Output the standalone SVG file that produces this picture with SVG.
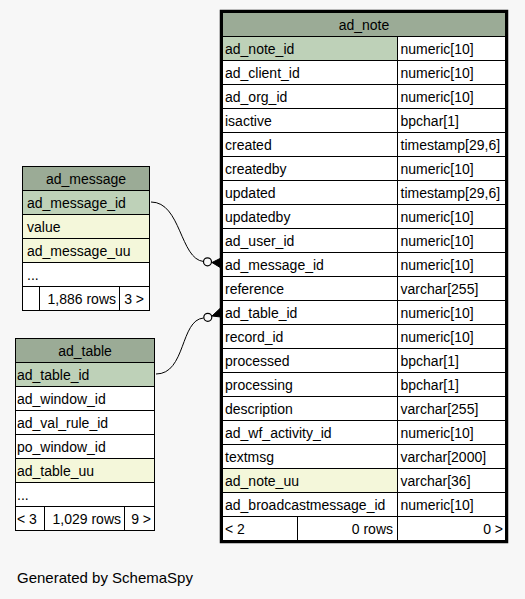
<svg xmlns="http://www.w3.org/2000/svg" width="525" height="599" viewBox="0 0 525 599">
<style>
text{font-family:"Liberation Sans",Arial,Helvetica,sans-serif;font-size:14px;fill:#000}
.c{stroke:#000;stroke-width:1}
.h{fill:#9bab96}
.pk{fill:#bed1b8}
.ix{fill:#f4f7da}
.w{fill:#ffffff}
.mid{text-anchor:middle}
.end{text-anchor:end}
.edge{fill:none;stroke:#000;stroke-width:1}
.dot{fill:none;stroke:#000;stroke-width:1.2}
.crow{fill:#000;stroke:#000;stroke-width:1}
</style>
<rect width="525" height="599" fill="#f7f7f7"/>

<g id="connectors">
<path class="edge" d="M151,202 C181,202 180,259 203.5,261.5"/>
<circle class="dot" cx="207.5" cy="261.8" r="4"/>
<polygon class="crow" points="221,258 212,262.5 221,268"/>
<path class="edge" d="M156,374 C186,374 180,320 203.5,318"/>
<circle class="dot" cx="207.8" cy="317.3" r="4"/>
<polygon class="crow" points="221,307.5 212,316 221,317"/>
</g>

<g id="ad_message">
<rect class="c h" x="22.5" y="166.5" width="127" height="24"/>
<text class="mid" x="86" y="184">ad_message</text>
<rect class="c pk" x="22.5" y="190.5" width="127" height="24"/>
<text x="27" y="208">ad_message_id</text>
<rect class="c ix" x="22.5" y="214.5" width="127" height="24"/>
<text x="27" y="232">value</text>
<rect class="c ix" x="22.5" y="238.5" width="127" height="24"/>
<text x="27" y="256">ad_message_uu</text>
<rect class="c w" x="22.5" y="262.5" width="127" height="24"/>
<text x="27" y="280">...</text>
<rect class="c w" x="22.5" y="286.5" width="17" height="24"/>
<rect class="c w" x="39.5" y="286.5" width="80" height="24"/>
<text class="end" x="116" y="304">1,886 rows</text>
<rect class="c w" x="119.5" y="286.5" width="30" height="24"/>
<text class="end" x="144" y="304">3 &gt;</text>
</g>

<g id="ad_table">
<rect class="c h" x="15.5" y="338.5" width="139" height="24"/>
<text class="mid" x="85" y="356">ad_table</text>
<rect class="c pk" x="15.5" y="362.5" width="139" height="24"/>
<text x="17" y="380">ad_table_id</text>
<rect class="c w" x="15.5" y="386.5" width="139" height="24"/>
<text x="17" y="404">ad_window_id</text>
<rect class="c w" x="15.5" y="410.5" width="139" height="24"/>
<text x="17" y="428">ad_val_rule_id</text>
<rect class="c w" x="15.5" y="434.5" width="139" height="24"/>
<text x="17" y="452">po_window_id</text>
<rect class="c ix" x="15.5" y="458.5" width="139" height="24"/>
<text x="17" y="476">ad_table_uu</text>
<rect class="c w" x="15.5" y="482.5" width="139" height="24"/>
<text x="17" y="500">...</text>
<rect class="c w" x="15.5" y="506.5" width="29" height="24"/>
<text x="17" y="524">&lt; 3</text>
<rect class="c w" x="44.5" y="506.5" width="80" height="24"/>
<text class="end" x="121" y="524">1,029 rows</text>
<rect class="c w" x="124.5" y="506.5" width="30" height="24"/>
<text class="end" x="151" y="524">9 &gt;</text>
</g>

<g id="ad_note">
<rect class="c h" x="222.5" y="12.5" width="283" height="24"/>
<text class="mid" x="364" y="30">ad_note</text>

<rect class="c pk" x="222.5" y="36.5" width="175" height="24"/><rect class="c w" x="397.5" y="36.5" width="108" height="24"/>
<text x="225" y="54">ad_note_id</text><text x="400.5" y="54">numeric[10]</text>

<rect class="c w" x="222.5" y="60.5" width="175" height="24"/><rect class="c w" x="397.5" y="60.5" width="108" height="24"/>
<text x="225" y="78">ad_client_id</text><text x="400.5" y="78">numeric[10]</text>

<rect class="c w" x="222.5" y="84.5" width="175" height="24"/><rect class="c w" x="397.5" y="84.5" width="108" height="24"/>
<text x="225" y="102">ad_org_id</text><text x="400.5" y="102">numeric[10]</text>

<rect class="c w" x="222.5" y="108.5" width="175" height="24"/><rect class="c w" x="397.5" y="108.5" width="108" height="24"/>
<text x="225" y="126">isactive</text><text x="400.5" y="126">bpchar[1]</text>

<rect class="c w" x="222.5" y="132.5" width="175" height="24"/><rect class="c w" x="397.5" y="132.5" width="108" height="24"/>
<text x="225" y="150">created</text><text x="400.5" y="150">timestamp[29,6]</text>

<rect class="c w" x="222.5" y="156.5" width="175" height="24"/><rect class="c w" x="397.5" y="156.5" width="108" height="24"/>
<text x="225" y="174">createdby</text><text x="400.5" y="174">numeric[10]</text>

<rect class="c w" x="222.5" y="180.5" width="175" height="24"/><rect class="c w" x="397.5" y="180.5" width="108" height="24"/>
<text x="225" y="198">updated</text><text x="400.5" y="198">timestamp[29,6]</text>

<rect class="c w" x="222.5" y="204.5" width="175" height="24"/><rect class="c w" x="397.5" y="204.5" width="108" height="24"/>
<text x="225" y="222">updatedby</text><text x="400.5" y="222">numeric[10]</text>

<rect class="c w" x="222.5" y="228.5" width="175" height="24"/><rect class="c w" x="397.5" y="228.5" width="108" height="24"/>
<text x="225" y="246">ad_user_id</text><text x="400.5" y="246">numeric[10]</text>

<rect class="c w" x="222.5" y="252.5" width="175" height="24"/><rect class="c w" x="397.5" y="252.5" width="108" height="24"/>
<text x="225" y="270">ad_message_id</text><text x="400.5" y="270">numeric[10]</text>

<rect class="c w" x="222.5" y="276.5" width="175" height="24"/><rect class="c w" x="397.5" y="276.5" width="108" height="24"/>
<text x="225" y="294">reference</text><text x="400.5" y="294">varchar[255]</text>

<rect class="c w" x="222.5" y="300.5" width="175" height="24"/><rect class="c w" x="397.5" y="300.5" width="108" height="24"/>
<text x="225" y="318">ad_table_id</text><text x="400.5" y="318">numeric[10]</text>

<rect class="c w" x="222.5" y="324.5" width="175" height="24"/><rect class="c w" x="397.5" y="324.5" width="108" height="24"/>
<text x="225" y="342">record_id</text><text x="400.5" y="342">numeric[10]</text>

<rect class="c w" x="222.5" y="348.5" width="175" height="24"/><rect class="c w" x="397.5" y="348.5" width="108" height="24"/>
<text x="225" y="366">processed</text><text x="400.5" y="366">bpchar[1]</text>

<rect class="c w" x="222.5" y="372.5" width="175" height="24"/><rect class="c w" x="397.5" y="372.5" width="108" height="24"/>
<text x="225" y="390">processing</text><text x="400.5" y="390">bpchar[1]</text>

<rect class="c w" x="222.5" y="396.5" width="175" height="24"/><rect class="c w" x="397.5" y="396.5" width="108" height="24"/>
<text x="225" y="414">description</text><text x="400.5" y="414">varchar[255]</text>

<rect class="c w" x="222.5" y="420.5" width="175" height="24"/><rect class="c w" x="397.5" y="420.5" width="108" height="24"/>
<text x="225" y="438">ad_wf_activity_id</text><text x="400.5" y="438">numeric[10]</text>

<rect class="c w" x="222.5" y="444.5" width="175" height="24"/><rect class="c w" x="397.5" y="444.5" width="108" height="24"/>
<text x="225" y="462">textmsg</text><text x="400.5" y="462">varchar[2000]</text>

<rect class="c ix" x="222.5" y="468.5" width="175" height="24"/><rect class="c w" x="397.5" y="468.5" width="108" height="24"/>
<text x="225" y="486">ad_note_uu</text><text x="400.5" y="486">varchar[36]</text>

<rect class="c w" x="222.5" y="492.5" width="175" height="24"/><rect class="c w" x="397.5" y="492.5" width="108" height="24"/>
<text x="225" y="510">ad_broadcastmessage_id</text><text x="400.5" y="510">numeric[10]</text>

<rect class="c w" x="222.5" y="516.5" width="75" height="24"/>
<text x="225" y="534">&lt; 2</text>
<rect class="c w" x="297.5" y="516.5" width="100" height="24"/>
<text class="end" x="393" y="534">0 rows</text>
<rect class="c w" x="397.5" y="516.5" width="108" height="24"/>
<text class="end" x="503" y="534">0 &gt;</text>

<rect x="221" y="11" width="286" height="531" fill="none" stroke="#000" stroke-width="2.5"/>
</g>

<text x="17" y="583" style="font-size:15px">Generated by SchemaSpy</text>
</svg>
